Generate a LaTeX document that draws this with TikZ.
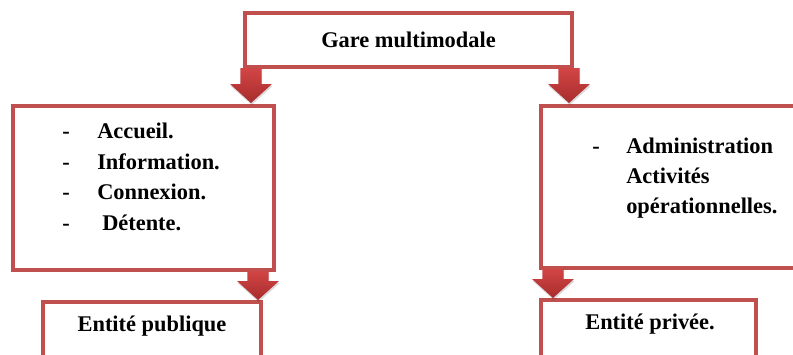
\documentclass[tikz,border=0pt]{standalone}
\usepackage{fontspec}
\setmainfont{Liberation Serif}
\usetikzlibrary{calc}
\definecolor{boxred}{HTML}{C0504D}
\definecolor{arrowtop}{HTML}{D24545}
\definecolor{arrowbot}{HTML}{A82C2C}
\tikzset{
  box/.style={draw=boxred, line width=3pt, fill=white, inner sep=0pt},
  lbl/.style={inner sep=0pt, font=\fontsize{16.8}{20}\selectfont\bfseries},
  arrowbody/.style={top color=arrowtop, bottom color=arrowbot},
  arrowshade/.style={fill=black, opacity=0.15},
}
% broad block arrow pointing down, from coordinate #1 to coordinate #2
\newcommand\fatarrow[2]{%
  \path[arrowshade] let \p1=(#1), \p2=(#2) in
    (\x1-7.9pt+0.5pt,\y1) -- (\x1+7.9pt+0.5pt,\y1) -- (\x1+7.9pt+0.5pt,\y2+14.25pt-1.5pt)
    -- (\x1+15.75pt+0.5pt,\y2+14.25pt-1.5pt) -- (\x1+0.5pt,\y2-1.5pt)
    -- (\x1-15.75pt+0.5pt,\y2+14.25pt-1.5pt) -- (\x1-7.9pt+0.5pt,\y2+14.25pt-1.5pt) -- cycle;
  \path[arrowbody] let \p1=(#1), \p2=(#2) in
    (\x1-7.9pt,\y1) -- (\x1+7.9pt,\y1) -- (\x1+7.9pt,\y2+14.25pt)
    -- (\x1+15.75pt,\y2+14.25pt) -- (\x1,\y2)
    -- (\x1-15.75pt,\y2+14.25pt) -- (\x1-7.9pt,\y2+14.25pt) -- cycle;
}
\begin{document}
\begin{tikzpicture}[x=0.75pt,y=-0.75pt]
\useasboundingbox (0,0) rectangle (793,354);
\clip (0,0) rectangle (793,354);

% boxes
\node[box, minimum width=327*0.75pt, minimum height=54*0.75pt] (gare) at (408.5,40) {};
\node[box, minimum width=261*0.75pt, minimum height=164*0.75pt] (pub) at (143.5,188) {};
\node[box, minimum width=280*0.75pt, minimum height=162*0.75pt] (priv) at (681,187) {};
\node[box, minimum width=218*0.75pt, minimum height=70*0.75pt] (epub) at (152,337) {};
\node[box, minimum width=215*0.75pt, minimum height=70*0.75pt] (epriv) at (648.5,335) {};

% arrow end points
\coordinate (a1s) at ($(gare.south west)+(8,-1)$);
\coordinate (a1e) at (a1s |- 0,103);
\coordinate (a2s) at ($(gare.south east)+(-5,-1)$);
\coordinate (a2e) at (a2s |- 0,103);
\coordinate (a3s) at ($(pub.south east)+(-18,-1)$);
\coordinate (a3e) at (a3s |- 0,300);
\coordinate (a4s) at ($(priv.south west)+(14,-1)$);
\coordinate (a4e) at (a4s |- 0,298);
\fatarrow{a1s}{a1e}
\fatarrow{a2s}{a2e}
\fatarrow{a3s}{a3e}
\fatarrow{a4s}{a4e}

% texts
\node[lbl] (tgare) at (gare) {Gare multimodale};

\node[lbl, anchor=base] (d1) at (66,138) {-};
\node[lbl, anchor=base] (d2) at (66,169) {-};
\node[lbl, anchor=base] (d3) at (66,199) {-};
\node[lbl, anchor=base] (d4) at (66,230) {-};
\node[lbl, anchor=base west] (t1) at (97,138) {Accueil.};
\node[lbl, anchor=base west] (t2) at (97,169) {Information.};
\node[lbl, anchor=base west] (t3) at (97,199) {Connexion.};
\node[lbl, anchor=base west] (t4) at (102,230) {Détente.};

\node[lbl, anchor=base] (d5) at (596,153) {-};
\node[lbl, anchor=base west] (t5) at (626,153) {Administration};
\node[lbl, anchor=base west] (t6) at (626,183) {Activités};
\node[lbl, anchor=base west] (t7) at (626,213) {opérationnelles.};

\node[lbl, anchor=base] (tpub) at (152,331) {Entité publique};
\node[lbl, anchor=base] (tpriv) at (650,329) {Entité privée.};
\end{tikzpicture}
\end{document}
